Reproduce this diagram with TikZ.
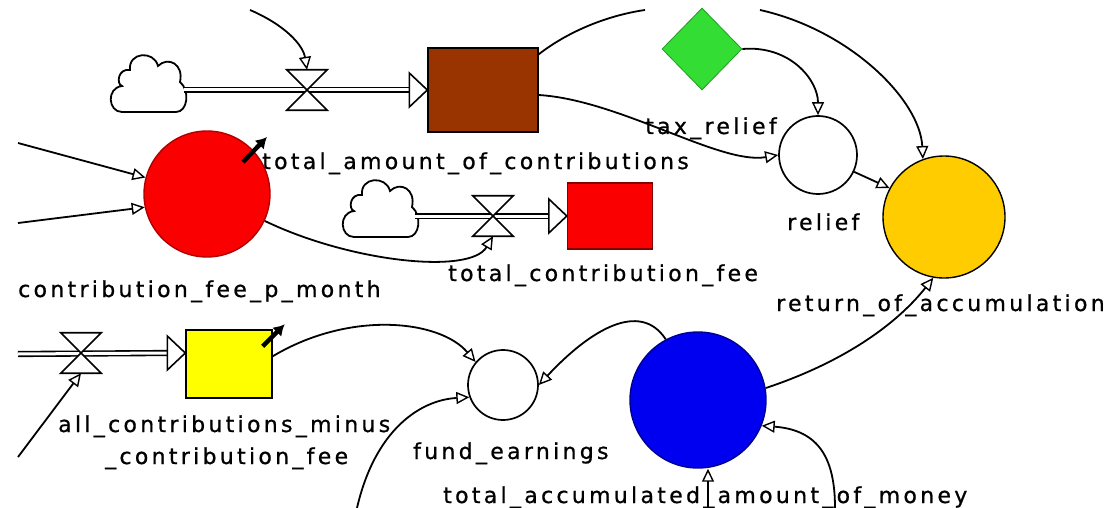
\documentclass[tikz,border=0pt]{standalone}
\usepackage{fontspec}
\newfontfamily\lblfont[LetterSpace=15,FakeBold=0.8]{DejaVu Sans}
\usetikzlibrary{arrows.meta,shapes.geometric}
\definecolor{stockbrown}{RGB}{153,51,0}
\definecolor{stockgreen}{RGB}{51,221,51}
\definecolor{stockred}{RGB}{250,0,0}
\definecolor{stockyellow}{RGB}{255,255,0}
\definecolor{stockgold}{RGB}{255,204,0}
\definecolor{stockblue}{RGB}{0,0,240}
\begin{document}
\begin{tikzpicture}[x=1pt,y=-1pt,
 conn/.style={line width=1.8pt, -{Triangle[open,length=13pt,width=12pt,line width=1.4pt]}},
 plain/.style={line width=1.8pt},
 pipe/.style={double=white, double distance=3pt, line width=1.6pt},
 lbl/.style={font=\lblfont\fontsize{22}{24}\selectfont, inner sep=0pt, anchor=base west},
 stockbox/.style={draw=black, line width=1.4pt, inner sep=0},
 aux/.style={circle, draw=black, line width=1.7pt, fill=white, inner sep=0},
 valvebox/.style={inner sep=0, minimum width=40pt, minimum height=40pt},
 valveshape/.style={fill=white, line width=1.7pt},
 cloudbox/.style={inner sep=0, minimum width=76pt, minimum height=58pt},
 cloudline/.style={fill=white, line width=1.8pt},
 pipehead/.style={fill=white, line width=1.6pt},
 handle/.style={line width=4.5pt, -{Latex[length=11pt,width=13pt]}}
]
\useasboundingbox (0,0) rectangle (1108,508);

% ---------- nodes ----------
\node[cloudbox] (cloud1) at (148,84) {};
\node[valvebox] (valve1) at (307,90) {};
\node[stockbox, fill=stockbrown, minimum width=110pt, minimum height=84pt] (contrib) at (483,90) {};

\node[diamond, draw=stockgreen!70!black, fill=stockgreen, line width=0.8pt, minimum width=80pt, minimum height=82pt, inner sep=0] (taxrelief) at (702,49) {};
\node[aux, minimum size=78pt] (relief) at (818,155) {};
\node[circle, draw=black, fill=stockgold, line width=1.4pt, minimum size=122pt, inner sep=0] (ret) at (944,217) {};

\node[circle, draw=red!70!black, fill=stockred, line width=1.4pt, minimum size=126pt, inner sep=0] (cfee) at (207,194) {};
\node[cloudbox, minimum width=74pt] (cloud2) at (380,209) {};
\node[valvebox] (valve2) at (493,216) {};
\node[stockbox, fill=stockred, draw=red!50!black, minimum width=85pt, minimum height=66pt] (tcfee) at (610,216) {};

\node[valvebox] (valve3) at (81,353) {};
\node[stockbox, fill=stockyellow, minimum width=86pt, minimum height=68pt] (allc) at (229,364) {};
\node[aux, minimum size=70pt] (fund) at (503,385) {};
\node[circle, draw=stockblue!60!black, fill=stockblue, line width=1.4pt, minimum size=136pt, inner sep=0] (tam) at (698,400) {};

% free ends
\coordinate (topA) at (250,10);
\coordinate (topB) at (645,10);
\coordinate (topC) at (760,10);
\coordinate (leftA) at (18,143);
\coordinate (leftB) at (18,223);
\coordinate (leftC) at (18,354);
\coordinate (leftD) at (18,457);
\coordinate (botA) at (357,508);
\coordinate (botB) at (708,508);
\coordinate (botC) at (835,508);

% ---------- clouds ----------
\foreach \c in {cloud1,cloud2}{
 \draw[cloudline, shift={(\c.center)}]
  (-26,28) -- (28,28)
  .. controls (40,28) and (42,6) .. (32,-2)
  .. controls (36,-20) and (20,-28) .. (10,-18)
  .. controls (6,-34) and (-20,-32) .. (-18,-14)
  .. controls (-30,-16) and (-32,0) .. (-26,2)
  .. controls (-42,4) and (-40,28) .. (-26,28) -- cycle;
}

% ---------- labels ----------
\node[lbl] (l1) at (262,169) {total\_amount\_of\_contributions};
\node[lbl] (l2) at (645,134) {tax\_relief};
\node[lbl] (l3) at (787,230) {relief};
\node[lbl] (l4) at (18,297) {contribution\_fee\_p\_month};
\node[lbl] (l5) at (448,281) {total\_contribution\_fee};
\node[lbl] (l6) at (776,311) {return\_of\_accumulation};
\node[lbl] (l7) at (58,432) {all\_contributions\_minus};
\node[lbl] (l8) at (105,464) {\_contribution\_fee};
\node[lbl] (l9) at (413,459) {fund\_earnings};
\node[lbl] (l10) at (443,503) {total\_accumulated\_amount\_of\_money};

% ---------- pipes ----------
\draw[pipe] ([xshift=-2pt]cloud1.east |- valve1.center) -- ([xshift=-18pt]contrib.west);
\draw[pipehead] ([xshift=-18pt,yshift=17pt]contrib.west) -- (contrib.west) -- ([xshift=-18pt,yshift=-17pt]contrib.west) -- cycle;
\draw[valveshape] (valve1.north west) -- (valve1.north east) -- (valve1.south west) -- (valve1.south east) -- cycle;

\draw[pipe] ([xshift=-2pt]cloud2.east |- valve2.center) -- ([xshift=-18pt]tcfee.west);
\draw[pipehead] ([xshift=-18pt,yshift=17pt]tcfee.west) -- (tcfee.west) -- ([xshift=-18pt,yshift=-17pt]tcfee.west) -- cycle;
\draw[valveshape] (valve2.north west) -- (valve2.north east) -- (valve2.south west) -- (valve2.south east) -- cycle;

\coordinate (allcin) at (allc.west |- valve3.center);
\draw[pipe] (leftC) -- ([xshift=-18pt]allcin);
\draw[pipehead] ([xshift=-18pt,yshift=17pt]allcin) -- (allcin) -- ([xshift=-18pt,yshift=-17pt]allcin) -- cycle;
\draw[valveshape] (valve3.north west) -- (valve3.north east) -- (valve3.south west) -- (valve3.south east) -- cycle;

% ---------- connectors ----------
\draw[conn] (topA) .. controls (285,25) and (303,45) .. (valve1.north);
\draw[plain] ([yshift=-7pt]contrib.north east) .. controls (570,30) and (610,15) .. (topB);
\draw[conn] ([yshift=-5pt]contrib.east) .. controls (620,100) and (720,165) .. (relief.west);
\draw[conn] (taxrelief.east) .. controls (790,45) and (818,80) .. (relief.north);
\draw[conn] (topC) .. controls (850,30) and (920,100) .. (ret.110);
\draw[conn] (relief.-25) -- (ret.152);
\draw[conn] (leftA) -- (cfee.165);
\draw[conn] (leftB) -- (cfee.192);
\draw[conn] (cfee.-25) .. controls (350,262) and (470,275) .. (valve2.south);
\draw[conn] (leftD) -- (valve3.south);
\draw[conn] (allc.10) .. controls (350,310) and (440,320) .. (fund.140);
\draw[conn] (botA) .. controls (375,430) and (420,400) .. (fund.200);
\draw[conn] (tam.118) .. controls (640,300) and (590,330) .. (fund.east);
\draw[conn] (tam.10) .. controls (850,360) and (900,320) .. (ret.-100);
\draw[conn] (botB) -- (tam.south -| botB);
\draw[conn] (botC) .. controls (835,460) and (820,430) .. (tam.-22);

% ---------- selection handles ----------
\coordinate (h1s) at ([xshift=36pt,yshift=32pt]cfee.center);
\coordinate (h1e) at ([xshift=60pt,yshift=57pt]cfee.center);
\draw[handle] (h1s) -- (h1e);
\coordinate (h2s) at ([xshift=-10pt,yshift=-17pt]allc.north east);
\coordinate (h2e) at ([xshift=12pt,yshift=5pt]allc.north east);
\draw[handle] (h2s) -- (h2e);
\end{tikzpicture}
\end{document}
